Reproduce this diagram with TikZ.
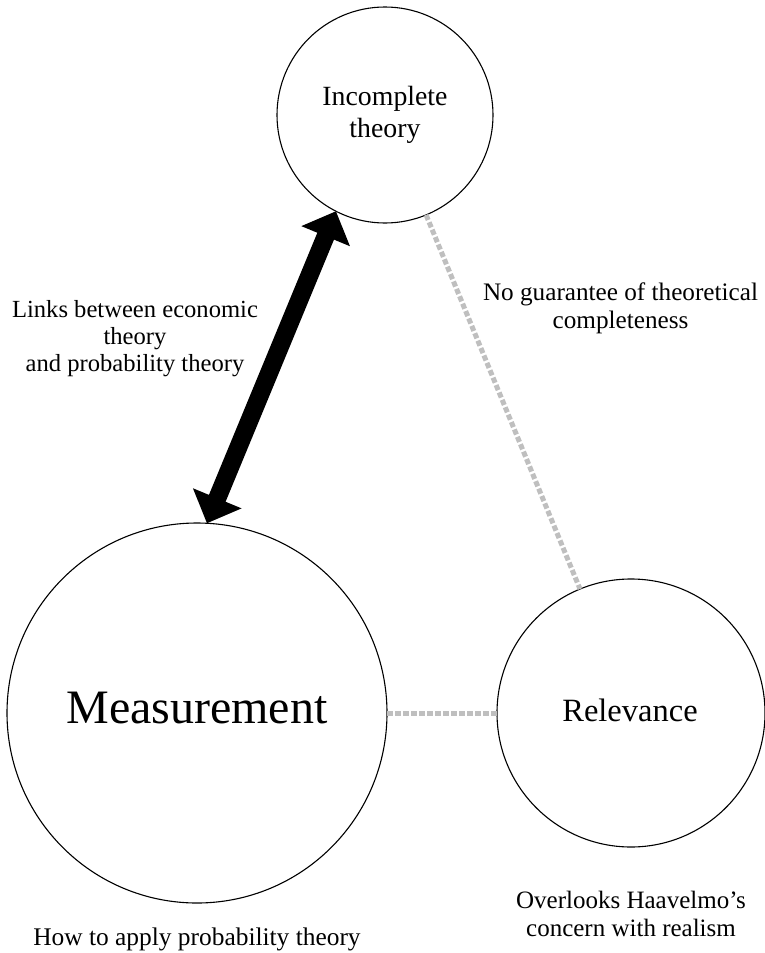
\documentclass[tikz,border=0pt]{standalone}
\usepackage{fontspec}
\setmainfont{Liberation Serif}
\usetikzlibrary{arrows.meta}
\begin{document}
\begin{tikzpicture}[x=1pt,y=-1pt,
  ring/.style={circle,draw=black,line width=1.1pt,inner sep=0pt,outer sep=0pt},
  lab/.style={align=center,inner sep=0pt,font=\fontsize{25}{28.4}\selectfont},
  weak/.style={draw=black!25,line width=5pt,dash pattern=on 5.5pt off 2.5pt},
  strong/.style={line width=18pt,{Triangle[width=51pt,length=27pt]}-{Triangle[width=51pt,length=27pt]}}
]
\useasboundingbox (0,0) rectangle (764,953);

% the three circles
\node[ring,minimum size=216pt] (inc) at (385,115) {};
\node[ring,minimum size=380pt] (meas) at (197,713) {};
\node[ring,minimum size=268pt] (rel) at (631,713) {};

% circle titles
\node[align=center,inner sep=0pt,font=\fontsize{27.8}{32}\selectfont] (inct) at (inc) {Incomplete\\theory};
\node[anchor=base,inner sep=0pt,font=\fontsize{48}{55}\selectfont] (meast) at (197,723) {Measurement};
\node[anchor=base,inner sep=0pt,font=\fontsize{32.5}{38}\selectfont] (relt) at (630,721) {Relevance};

% connectors
\draw[strong] (meas.87.6) -- (inc.243.4);
\draw[weak] (inc) -- (rel);
\draw[weak] (meas) -- (rel);

% annotations
\node[lab,font=\fontsize{24.6}{27.2}\selectfont] (links) at (135,338.8) {Links between economic\\theory\\and probability theory};
\node[lab,font=\fontsize{25.2}{28.3}\selectfont] (guar) at (620.5,308.3) {No guarantee of theoretical\\completeness};
\node[lab] (over) at (631,914) {Overlooks Haavelmo’s\\concern with realism};
\node[anchor=base,inner sep=0pt,font=\fontsize{25.4}{29}\selectfont] (how) at (197,945) {How to apply probability theory};
\end{tikzpicture}
\end{document}
